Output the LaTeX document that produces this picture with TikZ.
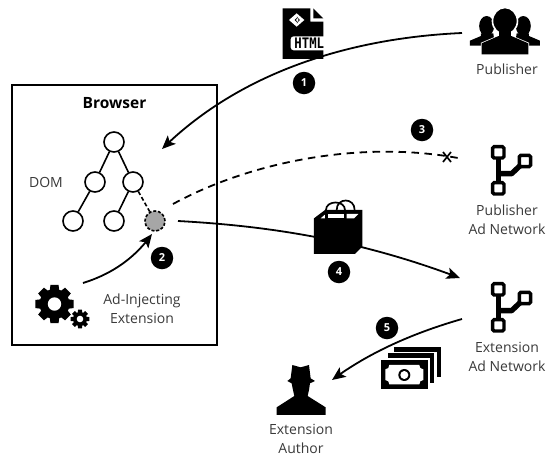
\documentclass[tikz,border=0pt]{standalone}
\usepackage{fontspec}
\setmainfont{Open Sans}
\newfontfamily\monob[FakeStretch=0.85]{DejaVu Sans Mono Bold}
\usetikzlibrary{arrows.meta,bending,calc}
\definecolor{txt}{HTML}{3A3A3A}
\tikzset{
 lab/.style={anchor=base,inner sep=0pt,text=txt,font=\fontsize{14}{16}\selectfont},
 dom/.style={circle,draw=black,line width=1.6pt,fill=white,minimum size=20pt,inner sep=0pt},
 badge/.style={circle,fill=black,text=white,minimum size=22.5pt,inner sep=0pt,font=\fontsize{11}{12}\selectfont\bfseries},
 flow/.style={line width=1.8pt,-{Stealth[length=13.5pt,width=11.5pt,inset=3pt]}},
 plain/.style={line width=1.8pt},
}
\newcommand{\mygear}[5]{% x y outer inner hole
 \fill[black] (#1,#2) circle (#4);
 \foreach \a in {0,45,...,315}{
  \fill[black] ($(#1,#2)+(\a-19:#4-0.5)$) -- ($(#1,#2)+(\a-12:#3)$) -- ($(#1,#2)+(\a+12:#3)$) -- ($(#1,#2)+(\a+19:#4-0.5)$) -- cycle;
 }
 \fill[white] (#1,#2) circle (#5);
}
\newcommand{\netw}[1]{%
 \begin{scope}[shift={(290,#1)},x=0.3333pt,y=-0.3333pt]
  \draw[line width=5.4pt] (625,127) -- (625,235);
  \draw[line width=5.4pt,line join=round] (625,191) -- (665,191) -- (705,153);
  \foreach \p in {(625,127),(625,235),(705,153)}
   \draw[line width=3.4pt,fill=white,rounded corners=1.5pt] \p ++(-17,-17) rectangle ++(34,34);
 \end{scope}}
\begin{document}
\begin{tikzpicture}[x=1pt,y=-1pt]
\useasboundingbox (0,0) rectangle (547,456);
\fill[white] (0,0) rectangle (547,456);
% browser
\node[draw=black,line width=1.6pt,minimum width=205pt,minimum height=260pt,inner sep=0pt] (browser) at (114.5,215) {};
\node[lab,font=\fontsize{15.5}{17}\selectfont\bfseries,text=black] (browsertxt) at (114.5,108) {Browser};
\node[lab] (domtxt) at (46,187) {DOM};
\node[lab] (ad1) at (142,304) {Ad-Injecting};
\node[lab] (ad2) at (142,323) {Extension};
% dom tree
\node[dom] (r) at (114,142) {};
\node[dom] (a) at (95,182) {};
\node[dom] (b) at (133,182) {};
\node[dom] (c) at (73,221) {};
\node[dom] (d) at (114,221) {};
\node[dom,fill=black!35,dash pattern=on 3pt off 1.8pt] (e) at (155,221) {};
\draw[line width=1.6pt] (r)--(a) (r)--(b) (a)--(c) (b)--(d);
\draw[line width=1.6pt,dash pattern=on 4pt off 2.5pt] (b)--(e);
% labels
\node[lab] (pub) at (507,74) {Publisher};
\node[lab] (pan1) at (507,215) {Publisher};
\node[lab] (pan2) at (507,234) {Ad Network};
\node[lab] (ean1) at (507,352) {Extension};
\node[lab] (ean2) at (507,371) {Ad Network};
\node[lab] (ea1) at (301,434) {Extension};
\node[lab] (ea2) at (301,453) {Author};
% free ends
\coordinate (s1) at (462,33);
\coordinate (t1) at (162,149);
\coordinate (s2) at (83,283);
\coordinate (t2) at (152,234);
\coordinate (s3) at (173,204);
\coordinate (t3) at (458,158);
\coordinate (s4) at (178,221);
\coordinate (t4) at (460,278);
\coordinate (s5) at (462,319);
\coordinate (t5) at (332,380);
\coordinate (xa) at (443,152);
\coordinate (xb) at (451,162);
\coordinate (xc) at (451,152);
\coordinate (xd) at (443,162);
% html icon
\begin{scope}[shift={(260,0)},x=0.3333pt,y=-0.3333pt]
 \fill[black] (68,25) -- (151,25) -- (151,65) -- (190,65) -- (190,177) -- (68,177) -- cycle;
 \fill[black] (160,25) -- (190,55) -- (160,55) -- cycle;
 \fill[white] (87,60) -- (110,40) -- (133,60) -- (110,80) -- cycle;
 \fill[black] (104,60) -- (114,50) -- (108,60) -- (114,70) -- cycle;
 \fill[black] (116,60) -- (110,50) -- (120,60) -- (110,70) -- cycle;
 \fill[white,rounded corners=3pt] (92,109) rectangle (204,151);
 \node[inner sep=0pt,font=\fontsize{14.5}{14}\monob,text=black] (htmltxt) at (148,131) {HTML};
\end{scope}
% arrows
\draw[flow] (s1) .. controls (350,38) and (240,72) .. (t1);
\draw[flow] (s2) .. controls (112,274) and (135,258) .. (t2);
\draw[plain,dash pattern=on 7.5pt off 5.5pt] (s3) .. controls (250,162) and (360,140) .. (t3);
\draw[line width=1.7pt] (xa)--(xb) (xc)--(xd);
\draw[flow] (s4) .. controls (270,226) and (360,240) .. (t4);
\draw[flow] (s5) .. controls (420,331) and (372,350) .. (t5);
% badges
\node[badge] (n1) at (304,83) {1};
\node[badge] (n2) at (162,258) {2};
\node[badge] (n3) at (422,130) {3};
\node[badge] (n4) at (339,272) {4};
\node[badge] (n5) at (387,328) {5};
% publisher icon
\begin{scope}[shift={(260,0)},x=0.3333pt,y=-0.3333pt]
 \foreach \s in {1,-1}{
  \fill[black] (735+\s*55,78) ellipse (7.5pt and 10pt);
  \fill[black] (735+\s*35,100) -- (735+\s*72,100) -- (735+\s*72,108) -- (735+\s*105,122) -- (735+\s*105,137) -- (735+\s*30,137) -- cycle;
 }
 \draw[white,line width=1.6pt,fill=black] (717,60) -- (717,108) -- (665,130) -- (665,163) -- (805,163) -- (805,130) -- (753,108) -- (753,60) -- cycle;
 \draw[white,line width=1.6pt,fill=black] (735,63) ellipse (12.5pt and 13.5pt);
 \fill[black] (716,85) rectangle (754,115);
 \fill[black] (716,108) -- (754,108) -- (805,130) -- (805,163) -- (665,163) -- (665,130) -- cycle;
\end{scope}
\netw{110}
\netw{247}
% bag
\begin{scope}[shift={(290,110)},x=0.3333pt,y=-0.3333pt]
 \draw[line width=1.7pt] (140,300) .. controls (140,262) and (194,262) .. (194,300);
 \fill[black] (72,325) -- (105,300) -- (217,300) -- (217,410) -- (195,432) -- (72,432) -- cycle;
 \fill[white] (92,325) -- (107,312) -- (107,325) -- cycle;
 \fill[white] (113,312) rectangle (163,325);
 \fill[white] (170,312) -- (205,312) -- (192,325) -- (170,325) -- cycle;
 \draw[line width=1.7pt] (108,330) -- (108,300) .. controls (108,270) and (165,270) .. (165,300) -- (165,330);
\end{scope}
% gears
\mygear{54.5}{304}{19.5}{15}{6.7}
\mygear{80}{319}{9.5}{7}{3.3}
% agent
\begin{scope}[shift={(260,300)},x=0.3333pt,y=-0.3333pt]
 \fill[black] (97,195) -- (122,202) -- (147,195) -- (152,235) -- (165,243) -- (150,250) -- (147,270) -- (143,288) -- (197,322) -- (197,345) -- (50,345) -- (50,322) -- (103,288) -- (99,270) -- (95,250) -- (82,243) -- (92,235) -- cycle;
\end{scope}
% money
\begin{scope}[shift={(260,300)},x=0.3333pt,y=-0.3333pt]
 \fill[black] (403,142) rectangle (543,230);
 \fill[white] (403,155) rectangle (530,250);
 \fill[black] (383,160) rectangle (523,250);
 \fill[white] (376,173) rectangle (510,262);
 \fill[black] (363,180) rectangle (503,268);
 \fill[white] (388,195) -- (478,195) .. controls (478,202) and (482,208) .. (490,208) -- (490,240) .. controls (482,240) and (478,246) .. (478,253) -- (388,253) .. controls (388,246) and (384,240) .. (376,240) -- (376,208) .. controls (384,208) and (388,202) .. (388,195) -- cycle;
 \fill[black] (433,225) circle (6pt);
 \fill[white] (433,225) circle (4pt);
\end{scope}
\end{tikzpicture}
\end{document}
